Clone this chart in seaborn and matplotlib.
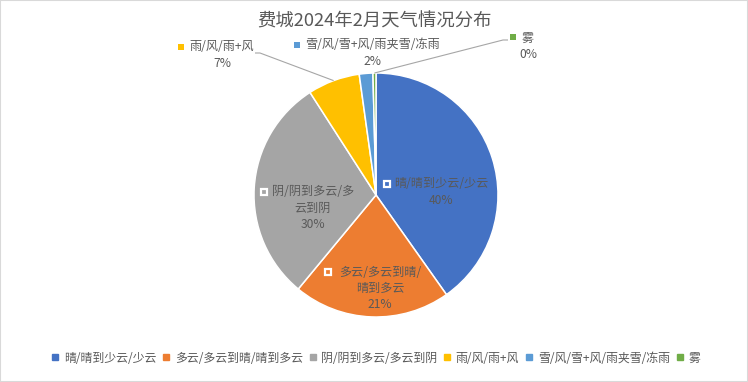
import numpy as np
import matplotlib.pyplot as plt
import seaborn as sns
from matplotlib.patches import Rectangle
from matplotlib.lines import Line2D

# 数据
title = '费城2024年2月天气情况分布'
categories = ['晴/晴到少云/少云', '多云/多云到晴/晴到多云', '阴/阴到多云/多云到阴',
              '雨/风/雨+风', '雪/风/雪+风/雨夹雪/冻雨', '雾']
shares = [40.2, 20.8, 29.9, 6.9, 1.8, 0.4]
# 扇区内标签的换行方式
label_lines = [['晴/晴到少云/少云'], ['多云/多云到晴/', '晴到多云'], ['阴/阴到多云/多', '云到阴'],
               ['雨/风/雨+风'], ['雪/风/雪+风/雨夹雪/冻雨'], ['雾']]

colors = ['#4472C4', '#ED7D31', '#A5A5A5', '#FFC000', '#5B9BD5', '#70AD47']
TXT = '#595959'

sns.set_theme(style='white')
plt.rcParams['font.family'] = ['Noto Sans CJK SC', 'DejaVu Sans']

W, H = 748, 382
CX, CY, R = 376, 195, 122   # 饼图中心和半径(像素)

fig = plt.figure(figsize=(W / 100, H / 100), dpi=100)
ax = fig.add_axes([0, 0, 1, 1])
wedges, _ = ax.pie(shares, colors=sns.color_palette(colors), startangle=90,
                   counterclock=False, radius=1,
                   wedgeprops=dict(edgecolor='white', linewidth=1.1))
ax.set_xlim(-CX / R, (W - CX) / R)
ax.set_ylim(-(H - CY) / R, CY / R)
ax.set_aspect('auto')
ax.axis('off')


def P(x, y):
    # 像素坐标 -> 数据坐标
    return (x - CX) / R, (CY - y) / R


def edge_point(w, r=1.0):
    a = np.deg2rad((w.theta1 + w.theta2) / 2)
    return r * np.cos(a), r * np.sin(a)


# 标签布局(像素): 文字中心, 标记位置, 引导线起点
layout = [
    dict(text=(441, 184), mark=(387, 184), inside=True),
    dict(text=(380, 272), mark=(328, 272), inside=True),
    dict(text=(313, 192), mark=(264, 192), inside=True),
    dict(text=(222, 47), mark=(181, 47), inside=False, lead=[(255, 53), (260, 53)]),
    dict(text=(372, 45), mark=(297, 45), inside=False),
    dict(text=(528, 38), mark=(513, 37), inside=False, lead=[(508, 40), (503, 40)]),
]
LS = 16.5  # 行距(像素)

for i, (w, lines, lay) in enumerate(zip(wedges, label_lines, layout)):
    tx, ty = lay['text']
    rows = lines + [f'{shares[i]:.0f}%']
    for k, s in enumerate(rows):
        ax.text(*P(tx, ty + k * LS), s, ha='center', va='center',
                fontsize=8.7, color=TXT)
    if lay['inside']:
        ax.plot(*P(*lay['mark']), marker='s', ms=4.8, mfc=colors[i],
                mec='white', mew=1.6, ls='')
    else:
        ax.plot(*P(*lay['mark']), marker='s', ms=3.8, mfc=colors[i],
                mec=colors[i], mew=0, ls='')
    if 'lead' in lay:
        pts = [P(*p) for p in lay['lead']] + [edge_point(w, 1.0)]
        xs, ys = zip(*pts)
        ax.plot(xs, ys, color='#a6a6a6', lw=0.8, solid_capstyle='butt')

fig.text(374.5 / W, 1 - 22 / H, title, ha='center', va='center',
         fontsize=13.2, color=TXT)

handles = [Line2D([], [], marker='s', ls='', color=c, ms=3.8) for c in colors]
fig.legend(handles, categories, loc='center', bbox_to_anchor=(0.503, 1 - 358 / H),
           ncol=6, frameon=False, fontsize=8.6, labelcolor=TXT,
           handlelength=0.5, handletextpad=0.45, columnspacing=0.6)

fig.add_artist(Rectangle((0, 0), 1, 1, transform=fig.transFigure, fill=False,
                         ec='#d9d9d9', lw=1.5))

plt.savefig('out.png', dpi=100)
